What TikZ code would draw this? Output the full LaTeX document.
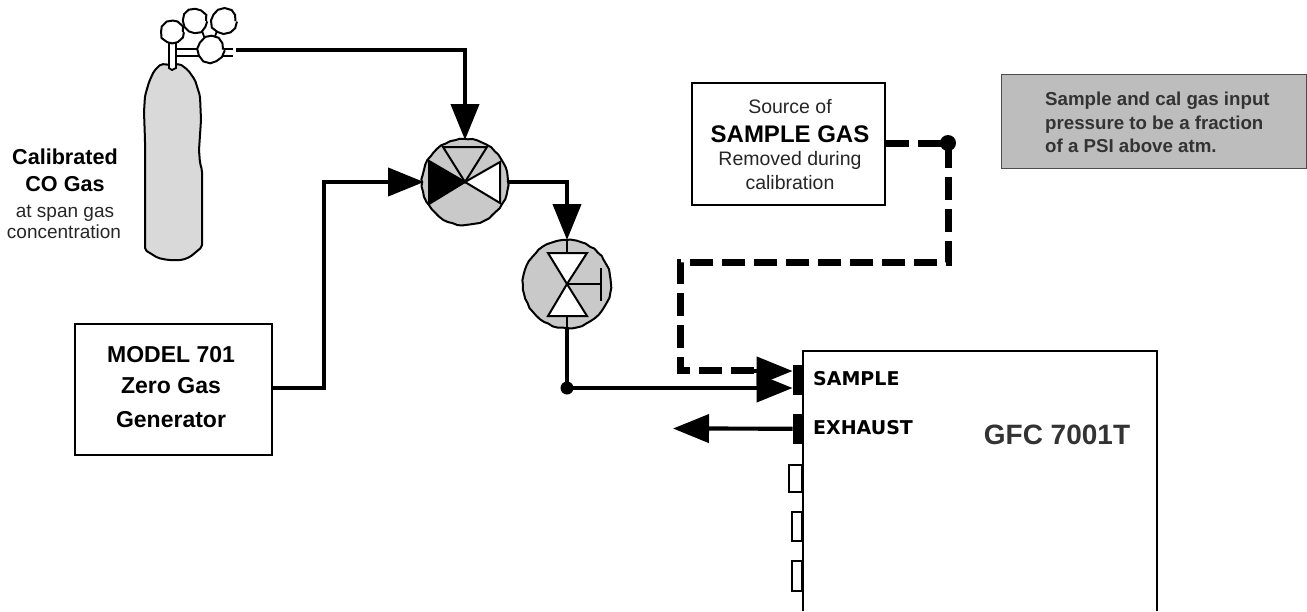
\documentclass[tikz,border=0pt]{standalone}
\usepackage{fontspec}
\setmainfont{Liberation Sans}
\newfontfamily\portfont{DejaVu Sans}
\usetikzlibrary{arrows.meta,decorations.pathmorphing,positioning}
\definecolor{valvegray}{gray}{0.79}
\definecolor{tankgray}{gray}{0.85}
\definecolor{boxgray}{gray}{0.74}
\tikzset{pipe/.style={line width=4.2pt,line join=miter},
         gaspipe/.style={pipe,-{Triangle[length=36pt,width=28pt]}},
         samplepipe/.style={pipe,line width=7pt,dash pattern=on 23pt off 9pt},
         valve/.style={circle,draw,fill=valvegray,line width=2pt,inner sep=0pt,decorate,decoration={random steps,segment length=5pt,amplitude=0.5pt}},
         gauge/.style={circle,draw,fill=white,line width=2pt,inner sep=0pt,decorate,decoration={random steps,segment length=6pt,amplitude=0.7pt}},
         port/.style={rectangle,fill=black,draw,inner sep=0pt,minimum width=10pt},
         emptyport/.style={rectangle,fill=white,draw,line width=1.6pt,inner sep=0pt},
         unit box/.style={rectangle,draw,line width=2pt,fill=white,inner sep=0pt},
         seat/.style={draw,line width=2pt,line join=miter},
         edge label/.style={rectangle,draw=none,fill=none,inner sep=0pt,anchor=base}
}
\begin{document}
\begin{tikzpicture}[x=1pt,y=-1pt]
\useasboundingbox (0,0) rectangle (1307,611);
% cylinder
\draw[line width=2pt,fill=tankgray,rounded corners=2pt]
  (172,65) -- (161,64) -- (154,71) -- (149,82) -- (145,96) -- (144,112) -- (145,140) -- (145,180) -- (145,250)
  -- (158,258) -- (168,260) -- (182,260) -- (190,257) -- (202,247) -- (202,170) -- (200,163) -- (199,150)
  -- (201,120) -- (200,96) -- (195,80) -- (188,70) -- (180,64) -- cycle;
\draw[line width=1.8pt,fill=white] (169,68) -- (169,38) -- (176,38) -- (176,68) -- (172,70) -- cycle;
\draw[line width=1.8pt] (177,49) -- (200,49) (177,56) -- (200,56) (219,49) -- (233,49) (219,56) -- (233,56);
\draw[line width=1.8pt] (202,31) -- (205,39) (217,31) -- (214,39);
\node[gauge,minimum size=22pt] (gauge1) at (195,21) {};
\node[gauge,minimum size=23pt] (gauge2) at (224,21) {};
\node[gauge,minimum width=21pt,minimum height=18pt] (knob) at (172.5,32) {};
\node[gauge,minimum size=24pt] (regulator) at (211,49.5) {};
% valves
\node[valve,minimum size=86pt] (valve1) at (465,182) {};
\node[valve,minimum size=88pt] (valve2) at (567,284) {};
\draw[seat] (valve1.center) -- (443,147) -- (487,147) -- cycle;
\draw[seat,fill=white] (valve1.center) -- (500,162) -- (500,203) -- cycle;
\draw[seat,fill=black] (valve1.center) -- (429,161) -- (429,204) -- cycle;
\draw[seat,fill=white] (valve2.center) -- (548,253) -- (587,253) -- cycle;
\draw[seat,fill=white] (valve2.center) -- (548,316) -- (587,316) -- cycle;
\draw[seat] (valve2.center) -- (601,284) (601,268) -- (601,301);
\draw[seat] (567,240) -- (567,253) (567,316) -- (567,327);
% boxes
\node[unit box,minimum width=197pt,minimum height=131pt] (model) at (173.5,389.5) {};
\node[unit box,minimum width=193pt,minimum height=122pt] (source) at (788.5,144) {};
\node[rectangle,draw=black!70,line width=1pt,fill=boxgray,minimum width=305pt,minimum height=94pt,inner sep=0pt] (note) at (1153.5,121) {};
\draw[line width=2pt] (803,611) -- (803,351) -- (1157,351) -- (1157,611);
\coordinate (gfc) at (803,351);
% ports
\node[port,minimum height=29pt,anchor=north east] (sample) at (803,365) {};
\node[port,minimum height=29pt,anchor=north east] (exhaust) at (803,414) {};
\node[emptyport,minimum width=13pt,minimum height=27pt,anchor=north east] (port1) at (803,464) {};
\node[emptyport,minimum width=10pt,minimum height=29pt,anchor=north east] (port2) at (803,511) {};
\node[emptyport,minimum width=10pt,minimum height=30pt,anchor=north east] (port3) at (803,560) {};
% pipes
\coordinate (tee) at (948,143);
\coordinate (cal) at (567,388);
\coordinate (tip1) at (465,140);
\coordinate (tip2) at (424,182);
\coordinate (tip3) at (567,240);
\coordinate (vent) at (673,428.5);
\draw[gaspipe] (236,50) -| (tip1);
\draw[gaspipe] (model.east |- 0,388) -| (324,182) -- (tip2);
\draw[gaspipe] (valve1.east) -| (tip3);
\draw[pipe] (567,327) -- (cal);
\draw[samplepipe] (source.east |- tee) -- (tee) -- (948,262) -- (680,262) -- (680,370) -- (760,370);
\draw[gaspipe] (cal) -- (sample.west |- cal);
\draw[gaspipe] (754,371) -- (sample.west |- 0,371);
\draw[gaspipe] (exhaust.west) -- (vent);
\fill (tee) circle (8pt);
\fill (cal) circle (6.5pt);
% labels
\node[edge label,font=\fontsize{21.6}{26}\selectfont\bfseries] (callabel) at (65,164) {Calibrated};
\node[edge label,font=\fontsize{21.6}{26}\selectfont\bfseries] (colabel) at (65,191) {CO Gas};
\node[edge label,font=\fontsize{19}{23}\selectfont,text=black!85] (spanlabel) at (65,217) {at span gas};
\node[edge label,font=\fontsize{19}{23}\selectfont,text=black!85] (conclabel) at (64,238) {concentration};
\node[edge label,font=\fontsize{23}{28}\selectfont\bfseries] (modellabel) at (171,362) {MODEL 701};
\node[edge label,font=\fontsize{23}{28}\selectfont\bfseries] (zerolabel) at (171,393) {Zero Gas};
\node[edge label,font=\fontsize{23}{28}\selectfont\bfseries] (genlabel) at (171,427) {Generator};
\node[edge label,font=\fontsize{19.5}{24}\selectfont,text=black!85] (sourcelabel) at (790,113) {Source of};
\node[edge label,font=\fontsize{24}{29}\selectfont\bfseries] (gaslabel) at (790,142) {SAMPLE GAS};
\node[edge label,font=\fontsize{19.5}{24}\selectfont,text=black!85] (removelabel) at (790,165) {Removed during};
\node[edge label,font=\fontsize{19.5}{24}\selectfont,text=black!85] (callablabel) at (790,189) {calibration};
\node[edge label,anchor=base west,font=\fontsize{18.7}{23}\selectfont\bfseries,text=black!80] (notelabel) at (1045,105) {Sample and cal gas input};
\node[edge label,anchor=base west,font=\fontsize{18.7}{23}\selectfont\bfseries,text=black!80] (notelabelb) at (1045,129) {pressure to be a fraction};
\node[edge label,anchor=base west,font=\fontsize{18.7}{23}\selectfont\bfseries,text=black!80] (notelabelc) at (1045,152) {of a PSI above atm.};
\node[edge label,anchor=base west,font=\fontsize{19}{23}\portfont\bfseries] (samplelabel) at (813,385) {SAMPLE};
\node[edge label,anchor=base west,font=\fontsize{19}{23}\portfont\bfseries] (exhaustlabel) at (813,434) {EXHAUST};
\node[edge label,font=\fontsize{28}{33}\selectfont\bfseries,text=black!80] (gfclabel) at (1057,444) {GFC 7001T};
\end{tikzpicture}
\end{document}
